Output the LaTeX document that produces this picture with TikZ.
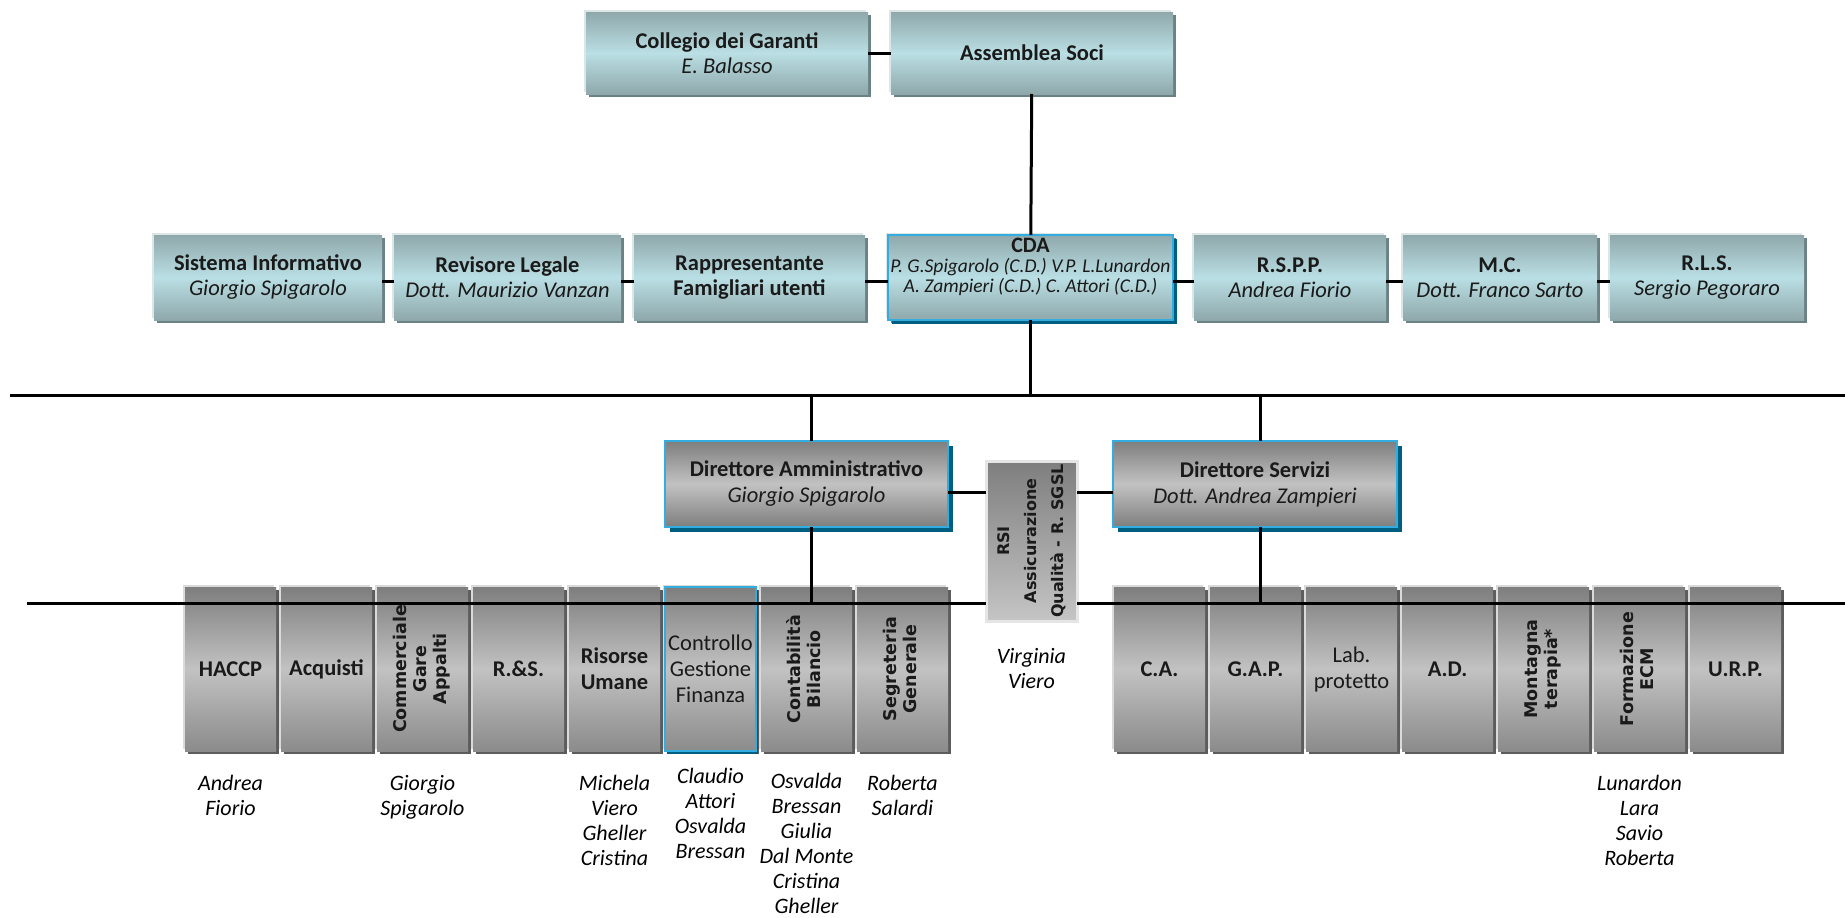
\documentclass[tikz,border=0pt]{standalone}
\usepackage{fontspec}
\setmainfont{Carlito}
\newfontfamily\vertfont{DejaVu Sans}
\usetikzlibrary{positioning,shadows}

\definecolor{tealtop}{HTML}{8FA8AB}
\definecolor{tealmid}{HTML}{BADFE4}
\definecolor{tealshade}{HTML}{6A8185}
\definecolor{tealhalo}{HTML}{DCE6E7}
\definecolor{cdablue}{HTML}{33ADDF}
\definecolor{deepblue}{HTML}{005F80}
\definecolor{greytop}{HTML}{7E7E7E}
\definecolor{greymid}{HTML}{C2C2C2}
\definecolor{greyshade}{HTML}{5C5C5C}
\definecolor{greyhalo}{HTML}{DADADA}
\definecolor{inktext}{HTML}{1A1A1A}

\newcommand{\vlabel}[1]{\rotatebox{90}{\vertfont\bfseries\fontsize{17.5}{20}\selectfont\begin{tabular}{@{}c@{}}#1\end{tabular}}}

\tikzset{
    basebox/.style={outer sep=0pt, inner sep=2pt, align=center, text=inktext},
    tealbox/.style={basebox, top color=tealtop, bottom color=tealtop, middle color=tealmid,
        general shadow={fill=tealhalo, shadow xshift=-2pt, shadow yshift=2pt},
        general shadow={fill=tealshade, shadow xshift=3pt, shadow yshift=-3pt},
        minimum height=85pt, font=\fontsize{22.5}{25}\selectfont},
    cdabox/.style={tealbox, draw=cdablue, line width=2.5pt,
        general shadow={fill=deepblue, shadow xshift=4pt, shadow yshift=-4pt}},
    dirbox/.style={basebox, top color=greytop, bottom color=greytop, middle color=greymid,
        draw=cdablue, line width=2.5pt,
        general shadow={fill=deepblue, shadow xshift=5pt, shadow yshift=-5pt},
        minimum height=86pt, font=\fontsize{22.5}{26}\selectfont},
    unitbox/.style={basebox, top color=greytop, bottom color=greytop!90!white, middle color=greymid,
        general shadow={fill=greyhalo, shadow xshift=-2pt, shadow yshift=2pt},
        general shadow={fill=greyshade, shadow xshift=3pt, shadow yshift=-3pt},
        minimum width=91pt, minimum height=164pt, font=\bfseries\fontsize{22.5}{26}\selectfont},
    rsibox/.style={basebox, top color=greytop, bottom color=greymid!95!white,
        draw=greyhalo!70!white, line width=3pt},
    staff/.style={anchor=north, align=center, inner sep=0pt, text=black,
        font=\itshape\fontsize{22}{25}\selectfont},
    link/.style={line width=3pt}
}

\begin{document}
\begin{tikzpicture}[x=1pt, y=-1pt]
    \useasboundingbox (0,0) rectangle (1845,918);

    % Top
    \node[tealbox, anchor=north west, minimum width=282pt, minimum height=82pt] (garanti) at (586,12)
        {\textbf{Collegio dei Garanti}\\\textit{E. Balasso}};
    \node[tealbox, right=23pt of garanti, minimum width=282pt, minimum height=82pt] (assemblea)
        {\textbf{Assemblea Soci}};

    % Board row
    \node[tealbox, anchor=north west, minimum width=228pt] (sistema) at (154,235)
        {\textbf{Sistema Informativo}\\\textit{Giorgio Spigarolo}};
    \node[tealbox, right=12pt of sistema, minimum width=227pt] (revisore)
        {\textbf{Revisore Legale}\\\textit{Dott. Maurizio Vanzan}};
    \node[tealbox, right=13pt of revisore, minimum width=231pt] (famiglie)
        {\textbf{Rappresentante}\\\textbf{Famigliari utenti}};
    \node[cdabox, right=23pt of famiglie, minimum width=285pt, font=\fontsize{19.5}{20}\selectfont] (cda)
        {\textbf{\fontsize{22}{20}\selectfont CDA}\\\textit{P. G.Spigarolo (C.D.) V.P. L.Lunardon}\\\textit{A. Zampieri (C.D.) C. Attori (C.D.)}\\[4pt]};
    \node[tealbox, right=21pt of cda, minimum width=192pt] (rspp)
        {\textbf{R.S.P.P.}\\\textit{Andrea Fiorio}};
    \node[tealbox, right=17pt of rspp, minimum width=194pt] (mc)
        {\textbf{M.C.}\\\textit{Dott. Franco Sarto}};
    \node[tealbox, right=13pt of mc, minimum width=194pt] (rls)
        {\textbf{R.L.S.}\\\textit{Sergio Pegoraro}};

    % Directors
    \node[dirbox, anchor=north west, minimum width=283pt] (dirA) at (665,441)
        {\textbf{Direttore Amministrativo}\\\textit{Giorgio Spigarolo}};
    \node[dirbox, anchor=north west, minimum width=284pt] (dirS) at (1113,441)
        {\textbf{Direttore Servizi}\\\textit{Dott. Andrea Zampieri}};
    \node[rsibox, anchor=north west, minimum width=91pt, minimum height=160pt] (rsi) at (986,461)
        {\rotatebox{90}{\vertfont\bfseries\fontsize{16}{27}\selectfont\begin{tabular}{@{}c@{}}RSI\\Assicurazione\\Qualità - R. SGSL\end{tabular}}};

    % Units (administration)
    \node[unitbox, anchor=north west] (haccp) at (185,587) {HACCP};
    \node[unitbox, right=5pt of haccp] (acquisti) {Acquisti};
    \node[unitbox, right=5pt of acquisti] (commerciale) {\vlabel{Commerciale\\Gare\\Appalti}};
    \node[unitbox, right=5pt of commerciale] (ricerca) {R.\&S.};
    \node[unitbox, right=5pt of ricerca] (risorse) {Risorse\\Umane};
    \node[unitbox, right=5pt of risorse, draw=cdablue, line width=2.5pt,
          general shadow={fill=deepblue, shadow xshift=2pt, shadow yshift=-3pt},
          font=\fontsize{22.5}{26}\selectfont] (controllo)
        {Controllo\\Gestione\\Finanza};
    \node[unitbox, right=5pt of controllo] (contabilita) {\vlabel{Contabilità\\Bilancio}};
    \node[unitbox, right=5pt of contabilita] (segreteria) {\vlabel{Segreteria\\Generale}};

    % Units (services)
    \node[unitbox, anchor=north west] (ca) at (1114,587) {C.A.};
    \node[unitbox, right=5pt of ca] (gap) {G.A.P.};
    \node[unitbox, right=5pt of gap, font=\fontsize{22.5}{26}\selectfont] (lab) {Lab.\\protetto};
    \node[unitbox, right=5pt of lab] (ad) {A.D.};
    \node[unitbox, right=5pt of ad] (montagna) {\vlabel{Montagna\\terapia*}};
    \node[unitbox, right=5pt of montagna] (formazione) {\vlabel{Formazione\\ECM}};
    \node[unitbox, right=5pt of formazione] (urp) {U.R.P.};

    % Staff names
    \node[staff, below=24pt of haccp] (haccpstaff) {Andrea\\Fiorio};
    \node[staff, below=24pt of commerciale] (commstaff) {Giorgio\\Spigarolo};
    \node[staff, below=24pt of risorse] (risstaff) {Michela\\Viero\\Gheller\\Cristina};
    \node[staff, below=17pt of controllo] (contrstaff) {Claudio\\Attori\\Osvalda\\Bressan};
    \node[staff, below=22pt of contabilita] (contabstaff) {Osvalda\\Bressan\\Giulia\\Dal Monte\\Cristina\\Gheller};
    \node[staff, below=24pt of segreteria] (segrstaff) {Roberta\\Salardi};
    \node[staff, below=27pt of rsi] (rsistaff) {Virginia\\Viero};
    \node[staff, below=24pt of formazione] (formstaff) {Lunardon\\Lara\\Savio\\Roberta};

    % Bus lines
    \coordinate (busA west) at (10,395);
    \coordinate (busA east) at (1845,395);
    \coordinate (busB west) at (27,603);
    \coordinate (busB east) at (1845,603);

    % Links
    \draw[link] (garanti) -- (assemblea);
    \draw[link] (assemblea) -- (cda);
    \draw[link] ([yshift=-4pt]sistema.east) -- ([yshift=-4pt]revisore.west);
    \draw[link] ([yshift=-4pt]revisore.east) -- ([yshift=-4pt]famiglie.west);
    \draw[link] ([yshift=-4pt]famiglie.east) -- ([yshift=-4pt]cda.west);
    \draw[link] ([yshift=-4pt]cda.east) -- ([yshift=-4pt]rspp.west);
    \draw[link] ([yshift=-4pt]rspp.east) -- ([yshift=-4pt]mc.west);
    \draw[link] ([yshift=-4pt]mc.east) -- ([yshift=-4pt]rls.west);
    \draw[link] (busA west) -- (busA east);
    \draw[link] (cda.south) -- (cda.south |- busA west);
    \draw[link] ([xshift=5pt]dirA.north |- busA west) -- ([xshift=5pt]dirA.north);
    \draw[link] ([xshift=5pt]dirS.north |- busA west) -- ([xshift=5pt]dirS.north);
    \draw[link] ([yshift=-8pt]dirA.east) -- ([yshift=-8pt]dirA.east -| rsi.west);
    \draw[link] ([yshift=-8pt]dirS.west) -- ([yshift=-8pt]dirS.west -| rsi.east);
    \draw[link] ([xshift=5pt]dirA.south) -- ([xshift=5pt]dirA.south |- busB west);
    \draw[link] ([xshift=5pt]dirS.south) -- ([xshift=5pt]dirS.south |- busB west);
    \draw[link] (busB west) -- (busB west -| rsi.west);
    \draw[link] (busB east -| rsi.east) -- (busB east);
\end{tikzpicture}
\end{document}
